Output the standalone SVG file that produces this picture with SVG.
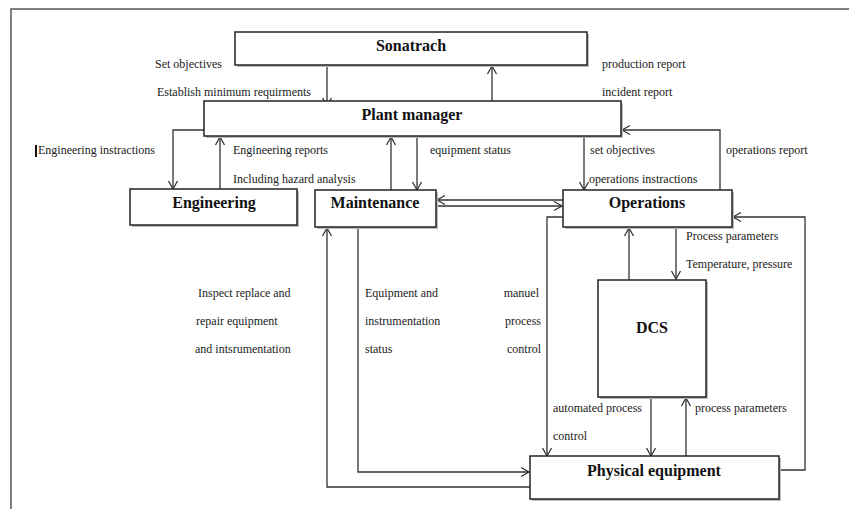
<svg xmlns="http://www.w3.org/2000/svg" width="849" height="509" viewBox="0 0 849 509">
<style>
.bg{fill:#fff}
.frame{fill:none;stroke:#555;stroke-width:1.5}
.box{fill:#fff;stroke:#222;stroke-width:1.5}
.sh{fill:#bbb}
text{font-family:'Times New Roman','Liberation Serif','DejaVu Serif','Noto Serif',serif}
.title{font-weight:bold;font-size:16px;fill:#111;text-anchor:middle}
.lbl{font-size:12px;fill:#222}
.r{text-anchor:end}
.c{fill:none;stroke:#333;stroke-width:1.3;marker-end:url(#ah)}
</style>
<defs>
<marker id="ah" markerUnits="userSpaceOnUse" markerWidth="12" markerHeight="12" refX="9" refY="5" orient="auto" viewBox="0 0 12 10">
<path d="M1,0.5 L9,5 L1,9.5" fill="none" stroke="#333" stroke-width="1.3"/>
</marker>
</defs>
<rect class="bg" x="0" y="0" width="849" height="509"/>
<path class="frame" d="M11,509 V9 H849"/>

<g id="connectors">
<path class="c" d="M327,65 V106"/>
<path class="c" d="M492,110 V66"/>
<path class="c" d="M204,130 H173 V189"/>
<path class="c" d="M220,189 V137"/>
<path class="c" d="M391,190 V137"/>
<path class="c" d="M417,136 V190"/>
<path class="c" d="M584,136 V190"/>
<path class="c" d="M720,190 V130 H622"/>
<path class="c" d="M563,200 H437"/>
<path class="c" d="M436,206 H562"/>
<path class="c" d="M563,217 H547 V456"/>
<path class="c" d="M779,470 H805 V217 H733"/>
<path class="c" d="M629,280 V228"/>
<path class="c" d="M676,227 V279"/>
<path class="c" d="M651,397 V456"/>
<path class="c" d="M686,456 V398"/>
<path class="c" d="M358,227 V472 H529"/>
<path class="c" d="M530,487 H327 V228"/>
</g>

<g id="sonatrach">
<rect class="sh" x="237" y="34" width="352" height="33"/>
<rect class="box" x="235" y="32" width="352" height="33"/>
<text class="title" x="411" y="51">Sonatrach</text>
</g>
<g id="plant-manager">
<rect class="sh" x="206" y="103" width="417" height="35"/>
<rect class="box" x="204" y="101" width="417" height="35"/>
<text class="title" x="412" y="120">Plant manager</text>
</g>
<g id="engineering">
<rect class="sh" x="132" y="191" width="167" height="36"/>
<rect class="box" x="130" y="189" width="167" height="36"/>
<text class="title" x="214" y="208">Engineering</text>
</g>
<g id="maintenance">
<rect class="sh" x="317" y="192" width="121" height="37"/>
<rect class="box" x="315" y="190" width="121" height="37"/>
<text class="title" x="375" y="208">Maintenance</text>
</g>
<g id="operations">
<rect class="sh" x="565" y="192" width="169" height="37"/>
<rect class="box" x="563" y="190" width="169" height="37"/>
<text class="title" x="647" y="208">Operations</text>
</g>
<g id="dcs">
<rect class="sh" x="600" y="282" width="108" height="117"/>
<rect class="box" x="598" y="280" width="108" height="117"/>
<text class="title" x="652" y="333">DCS</text>
</g>
<g id="physical-equipment">
<rect class="sh" x="532" y="458" width="249" height="43"/>
<rect class="box" x="530" y="456" width="249" height="43"/>
<text class="title" x="654" y="476">Physical equipment</text>
</g>

<g id="labels">
<text class="lbl" x="155" y="68">Set objectives</text>
<text class="lbl" x="157" y="96">Establish minimum requirments</text>
<text class="lbl" x="602" y="68">production report</text>
<text class="lbl" x="602" y="96">incident report</text>
<rect x="35" y="145" width="2" height="12" fill="#111"/>
<text class="lbl" x="38" y="154">Engineering instractions</text>
<text class="lbl" x="233" y="154">Engineering reports</text>
<text class="lbl" x="233" y="183">Including hazard analysis</text>
<text class="lbl" x="430" y="154">equipment status</text>
<text class="lbl" x="590" y="154">set objectives</text>
<text class="lbl" x="589" y="183">operations instractions</text>
<text class="lbl" x="726" y="154">operations report</text>
<text class="lbl" x="686" y="240">Process parameters</text>
<text class="lbl" x="686" y="268">Temperature, pressure</text>
<text class="lbl" x="198" y="297">Inspect replace and</text>
<text class="lbl" x="196" y="325">repair equipment</text>
<text class="lbl" x="195" y="353">and intsrumentation</text>
<text class="lbl" x="365" y="297">Equipment and</text>
<text class="lbl" x="365" y="325">instrumentation</text>
<text class="lbl" x="365" y="353">status</text>
<text class="lbl r" x="539" y="297">manuel</text>
<text class="lbl r" x="541" y="325">process</text>
<text class="lbl r" x="541" y="353">control</text>
<text class="lbl" x="553" y="412">automated process</text>
<text class="lbl" x="553" y="440">control</text>
<text class="lbl" x="695" y="412">process parameters</text>
</g>
</svg>
